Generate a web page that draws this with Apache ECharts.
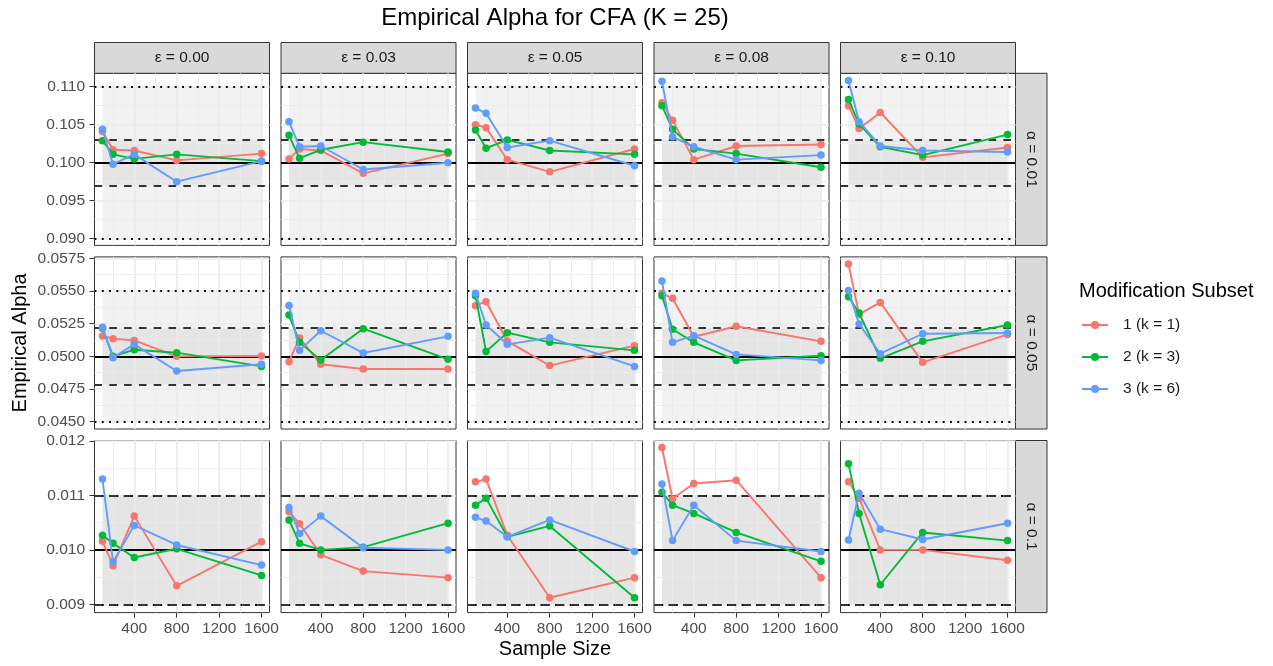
<!DOCTYPE html>
<html>
<head>
<meta charset="utf-8">
<script src="https://cdn.jsdelivr.net/npm/echarts@6/dist/echarts.min.js"></script>
<style>
  html, body { margin: 0; padding: 0; background: #ffffff; }
  #chart { width: 1273px; height: 666px; }
</style>
</head>
<body>
<div id="chart"></div>
<script>
// ---- data ----------------------------------------------------------------
const sampleSizes = [100, 200, 400, 800, 1600];
const epsilonLabels = ['ε = 0.00', 'ε = 0.03', 'ε = 0.05', 'ε = 0.08', 'ε = 0.10'];
const alphaLabels = ['α = 0.01', 'α = 0.05', 'α = 0.1'];
const subsetNames = ['1 (k = 1)', '2 (k = 3)', '3 (k = 6)'];

// x tick labels and minor grid positions
const xTicks = [400, 800, 1200, 1600];
const xMinor = [200, 600, 1000, 1400];

// y tick labels per row
const yTicksRow1 = [0.090, 0.095, 0.100, 0.105, 0.110];
const yTicksRow2 = [0.0450, 0.0475, 0.0500, 0.0525, 0.0550, 0.0575];
const yTicksRow3 = [0.009, 0.010, 0.011, 0.012];
const yMinorRow1 = [0.0925, 0.0975, 0.1025, 0.1075];
const yMinorRow2 = [0.04625, 0.04875, 0.05125, 0.05375, 0.05625];
const yMinorRow3 = [0.0095, 0.0105, 0.0115];

// reference lines per row
const targetAlpha = [0.100, 0.050, 0.010];
const outerBounds = [[0.090, 0.110], [0.045, 0.055], [0.009, 0.011]];
const innerBounds = [[0.097, 0.103], [0.04785, 0.05215], [0.009, 0.011]];

// empirical alpha: one row per epsilon (0.00, 0.03, 0.05, 0.08, 0.10), values for n = 100..1600
const alpha01_k1 = [
  [0.1041, 0.1017, 0.1016, 0.1003, 0.1012],
  [0.1005, 0.1018, 0.1016, 0.0986, 0.1012],
  [0.1050, 0.1046, 0.1004, 0.0988, 0.1018],
  [0.1079, 0.1056, 0.1004, 0.1022, 0.1024],
  [0.1075, 0.1045, 0.1066, 0.1007, 0.1020]
];
const alpha01_k3 = [
  [0.1029, 0.1011, 0.1005, 0.1011, 0.1002],
  [0.1036, 0.1006, 0.1017, 0.1027, 0.1014],
  [0.1043, 0.1019, 0.1030, 0.1016, 0.1011],
  [0.1075, 0.1044, 0.1018, 0.1012, 0.0994],
  [0.1083, 0.1051, 0.1021, 0.1010, 0.1037]
];
const alpha01_k6 = [
  [0.1044, 0.0998, 0.1011, 0.0975, 0.1002],
  [0.1054, 0.1021, 0.1022, 0.0991, 0.1000],
  [0.1072, 0.1065, 0.1020, 0.1029, 0.0996],
  [0.1107, 0.1034, 0.1021, 0.1004, 0.1010],
  [0.1108, 0.1054, 0.1022, 0.1016, 0.1014]
];
const alpha05_k1 = [
  [0.05156, 0.05135, 0.05122, 0.05000, 0.05003],
  [0.04959, 0.05140, 0.04939, 0.04903, 0.04903],
  [0.05388, 0.05418, 0.05117, 0.04929, 0.05082],
  [0.05482, 0.05444, 0.05150, 0.05230, 0.05115],
  [0.05707, 0.05321, 0.05413, 0.04954, 0.05168]
];
const alpha05_k3 = [
  [0.05215, 0.05000, 0.05051, 0.05028, 0.04923],
  [0.05316, 0.05107, 0.04972, 0.05212, 0.04977],
  [0.05464, 0.05038, 0.05181, 0.05107, 0.05046],
  [0.05464, 0.05207, 0.05107, 0.04969, 0.05005],
  [0.05457, 0.05332, 0.04985, 0.05115, 0.05240]
];
const alpha05_k6 = [
  [0.05222, 0.04990, 0.05092, 0.04888, 0.04939],
  [0.05390, 0.05046, 0.05196, 0.05026, 0.05153],
  [0.05482, 0.05240, 0.05092, 0.05143, 0.04923],
  [0.05577, 0.05107, 0.05158, 0.05015, 0.04969],
  [0.05503, 0.05247, 0.05020, 0.05173, 0.05179]
];
const alpha10_k1 = [
  [0.01016, 0.00971, 0.01062, 0.00934, 0.01015],
  [0.01070, 0.01048, 0.00991, 0.00961, 0.00949],
  [0.01125, 0.01130, 0.01027, 0.00912, 0.00949],
  [0.01188, 0.01094, 0.01122, 0.01128, 0.00949],
  [0.01125, 0.01095, 0.01000, 0.01000, 0.00981]
];
const alpha10_k3 = [
  [0.01027, 0.01012, 0.00986, 0.01002, 0.00953],
  [0.01055, 0.01012, 0.01000, 0.01005, 0.01049],
  [0.01082, 0.01095, 0.01024, 0.01044, 0.00912],
  [0.01106, 0.01082, 0.01067, 0.01032, 0.00979],
  [0.01158, 0.01067, 0.00936, 0.01032, 0.01017]
];
const alpha10_k6 = [
  [0.01130, 0.00978, 0.01045, 0.01009, 0.00972],
  [0.01078, 0.01030, 0.01062, 0.01004, 0.01000],
  [0.01060, 0.01053, 0.01024, 0.01055, 0.00997],
  [0.01121, 0.01017, 0.01082, 0.01017, 0.00997],
  [0.01018, 0.01104, 0.01038, 0.01019, 0.01049]
];

// ---- styling & layout ------------------------------------------------------
const FONT = '"Liberation Sans", Arial, Helvetica, sans-serif';
const subsetColors = ['#F8766D', '#00BA38', '#619CFF'];
const GRID_LINE = '#ebebeb';
const PANEL_W = 175, PANEL_H = 172.1;
const PANEL_X0 = 94.5, PANEL_DX = 186.5;
const PANEL_Y0 = 73.3, PANEL_DY = 183.6;
const STRIP_TOP_H = 30.8, STRIP_RIGHT_W = 31.5;
const X_RANGE = [25, 1675];
const Y_RANGE = [[0.08912, 0.11176], [0.04444, 0.05761], [0.008848, 0.012009]];
const Y_DECIMALS = [3, 4, 3];

const rowValues = [
  [alpha01_k1, alpha01_k3, alpha01_k6],
  [alpha05_k1, alpha05_k3, alpha05_k6],
  [alpha10_k1, alpha10_k3, alpha10_k6]
];
const yTicks = [yTicksRow1, yTicksRow2, yTicksRow3];
const yMinor = [yMinorRow1, yMinorRow2, yMinorRow3];

const nRows = alphaLabels.length, nCols = epsilonLabels.length;
const grids = [], xAxes = [], yAxes = [], series = [], graphics = [];

// reference line styles (fresh object per use)
const dottedStyle = () => ({ color: '#000000', width: 1.9, type: [1.9, 5.4], cap: 'butt', opacity: 1 });
const dashedStyle = () => ({ color: '#333333', width: 1.9, type: [7.6, 7.2], cap: 'butt', opacity: 1 });
const solidStyle = () => ({ color: '#000000', width: 1.9, type: 'solid', opacity: 1 });

function refLineSeries(g, name, values, styleFn, z) {
  return {
    name: name, type: 'line', xAxisIndex: 2 * g, yAxisIndex: 2 * g,
    data: [], silent: true, z: z, animation: false,
    markLine: {
      silent: true, z: z, precision: 8, symbol: ['none', 'none'], label: { show: false }, animation: false,
      lineStyle: styleFn(),
      emphasis: { disabled: true },
      data: values.map((v) => ({ yAxis: v }))
    }
  };
}

for (let r = 0; r < nRows; r++) {
  for (let c = 0; c < nCols; c++) {
    const g = r * nCols + c;
    const left = PANEL_X0 + c * PANEL_DX;
    const top = PANEL_Y0 + r * PANEL_DY;
    grids.push({
      left: left, top: top, width: PANEL_W, height: PANEL_H,
      show: true, backgroundColor: 'transparent',
      borderColor: '#333333', borderWidth: 1,
      containLabel: false, outerBoundsMode: 'none'
    });
    const bottomRow = r === nRows - 1, leftCol = c === 0;
    // major x axis (ticks, labels, major grid)
    xAxes.push({
      type: 'value', gridIndex: g, min: X_RANGE[0], max: X_RANGE[1], z: 1,
      axisLine: { show: false },
      axisTick: { show: bottomRow, customValues: xTicks, length: 5, lineStyle: { color: '#333333', width: 1 } },
      axisLabel: {
        show: bottomRow, customValues: xTicks, margin: 8, color: '#4d4d4d', fontSize: 15.5, fontFamily: FONT,
        formatter: (v) => String(Math.round(v))
      },
      splitLine: { show: true, lineStyle: { color: GRID_LINE, width: 1.7 } }
    });
    // minor x grid
    xAxes.push({
      type: 'value', gridIndex: g, min: X_RANGE[0], max: X_RANGE[1], z: 1, position: 'bottom',
      axisLine: { show: false },
      axisTick: { show: false, customValues: xMinor },
      axisLabel: { show: false },
      splitLine: { show: true, lineStyle: { color: GRID_LINE, width: 0.9 } }
    });
    yAxes.push({
      type: 'value', gridIndex: g, min: Y_RANGE[r][0], max: Y_RANGE[r][1], z: 1,
      axisLine: { show: false },
      axisTick: { show: leftCol, customValues: yTicks[r], length: 5, lineStyle: { color: '#333333', width: 1 } },
      axisLabel: {
        show: leftCol, customValues: yTicks[r], margin: 9.5, color: '#4d4d4d', fontSize: 15.5, fontFamily: FONT,
        formatter: (v) => Number(v).toFixed(Y_DECIMALS[r])
      },
      splitLine: { show: true, lineStyle: { color: GRID_LINE, width: 1.7 } }
    });
    yAxes.push({
      type: 'value', gridIndex: g, min: Y_RANGE[r][0], max: Y_RANGE[r][1], z: 1, position: 'left',
      axisLine: { show: false },
      axisTick: { show: false, customValues: yMinor[r] },
      axisLabel: { show: false },
      splitLine: { show: true, lineStyle: { color: GRID_LINE, width: 0.9 } }
    });

    const xStart = sampleSizes[0], xEnd = sampleSizes[sampleSizes.length - 1];
    // shaded tolerance bands (outer and inner) behind the grid lines
    series.push({
      name: 'band', type: 'line', xAxisIndex: 2 * g, yAxisIndex: 2 * g,
      data: [], silent: true, z: 0.8, animation: false,
      markArea: {
        silent: true, z: 0.8, precision: 8,
        itemStyle: { color: 'rgba(0,0,0,0.05)', borderWidth: 0 },
        label: { show: false },
        emphasis: { disabled: true },
        data: [
          [{ xAxis: xStart, yAxis: outerBounds[r][0] }, { xAxis: xEnd, yAxis: outerBounds[r][1] }],
          [{ xAxis: xStart, yAxis: innerBounds[r][0] }, { xAxis: xEnd, yAxis: innerBounds[r][1] }]
        ]
      }
    });
    // horizontal reference lines
    series.push(refLineSeries(g, 'outer', outerBounds[r], dottedStyle, 1.5));
    series.push(refLineSeries(g, 'inner', innerBounds[r], dashedStyle, 1.55));
    series.push(refLineSeries(g, 'target', [targetAlpha[r]], solidStyle, 1.6));

    for (let s = 0; s < subsetNames.length; s++) {
      const vals = rowValues[r][s][c];
      series.push({
        name: subsetNames[s],
        type: 'line',
        xAxisIndex: 2 * g, yAxisIndex: 2 * g,
        data: sampleSizes.map((n, i) => [n, vals[i]]),
        symbol: 'circle', symbolSize: 7.5, showSymbol: true,
        color: subsetColors[s],
        itemStyle: { color: subsetColors[s] },
        lineStyle: { color: subsetColors[s], width: 1.9 },
        z: 2 + s * 0.1,
        silent: true,
        emphasis: { disabled: true },
        animation: false
      });
    }
  }
}

// facet strips
for (let c = 0; c < nCols; c++) {
  const left = PANEL_X0 + c * PANEL_DX;
  graphics.push({
    type: 'rect', shape: { x: left, y: PANEL_Y0 - STRIP_TOP_H, width: PANEL_W, height: STRIP_TOP_H },
    style: { fill: '#d9d9d9', stroke: '#333333', lineWidth: 1 }, silent: true
  });
  graphics.push({
    type: 'text', x: left + PANEL_W / 2, y: PANEL_Y0 - STRIP_TOP_H / 2, silent: true,
    style: { text: epsilonLabels[c], fill: '#1a1a1a', font: '15.5px ' + FONT,
             align: 'center', verticalAlign: 'middle', textAlign: 'center', textVerticalAlign: 'middle' }
  });
}
const stripX = PANEL_X0 + (nCols - 1) * PANEL_DX + PANEL_W;
for (let r = 0; r < nRows; r++) {
  const top = PANEL_Y0 + r * PANEL_DY;
  graphics.push({
    type: 'rect', shape: { x: stripX, y: top, width: STRIP_RIGHT_W, height: PANEL_H },
    style: { fill: '#d9d9d9', stroke: '#333333', lineWidth: 1 }, silent: true
  });
  graphics.push({
    type: 'text', x: stripX + STRIP_RIGHT_W / 2, y: top + PANEL_H / 2, rotation: -Math.PI / 2, silent: true,
    style: { text: alphaLabels[r], fill: '#1a1a1a', font: '15.5px ' + FONT,
             align: 'center', verticalAlign: 'middle', textAlign: 'center', textVerticalAlign: 'middle' }
  });
}

// titles
const panelsCenterX = PANEL_X0 + ((nCols - 1) * PANEL_DX + PANEL_W) / 2;
const panelsCenterY = PANEL_Y0 + ((nRows - 1) * PANEL_DY + PANEL_H) / 2;
graphics.push({
  type: 'text', x: panelsCenterX, y: 18, silent: true,
  style: { text: 'Empirical Alpha for CFA (K = 25)', fill: '#000000', font: '24px ' + FONT,
           align: 'center', verticalAlign: 'middle', textAlign: 'center', textVerticalAlign: 'middle' }
});
graphics.push({
  type: 'text', x: panelsCenterX, y: 649, silent: true,
  style: { text: 'Sample Size', fill: '#000000', font: '20px ' + FONT,
           align: 'center', verticalAlign: 'middle', textAlign: 'center', textVerticalAlign: 'middle' }
});
graphics.push({
  type: 'text', x: 20, y: panelsCenterY, rotation: Math.PI / 2, silent: true,
  style: { text: 'Empirical Alpha', fill: '#000000', font: '20px ' + FONT,
           align: 'center', verticalAlign: 'middle', textAlign: 'center', textVerticalAlign: 'middle' }
});
graphics.push({
  type: 'text', x: 1079, y: 291, silent: true,
  style: { text: 'Modification Subset', fill: '#000000', font: '20px ' + FONT,
           align: 'left', verticalAlign: 'middle', textAlign: 'left', textVerticalAlign: 'middle' }
});

const chart = echarts.init(document.getElementById('chart'), null, { renderer: 'canvas' });
chart.setOption({
  backgroundColor: '#ffffff',
  animation: false,
  textStyle: { fontFamily: FONT },
  grid: grids,
  xAxis: xAxes,
  yAxis: yAxes,
  legend: {
    orient: 'vertical', left: 1081, top: 317, padding: 0,
    itemWidth: 26, itemHeight: 10, itemGap: 16, selectedMode: false,
    data: subsetNames,
    textStyle: { fontSize: 15.5, color: '#1a1a1a', fontFamily: FONT, lineHeight: 16, padding: [0, 0, 0, 10] }
  },
  graphic: graphics,
  series: series
});
</script>
</body>
</html>
